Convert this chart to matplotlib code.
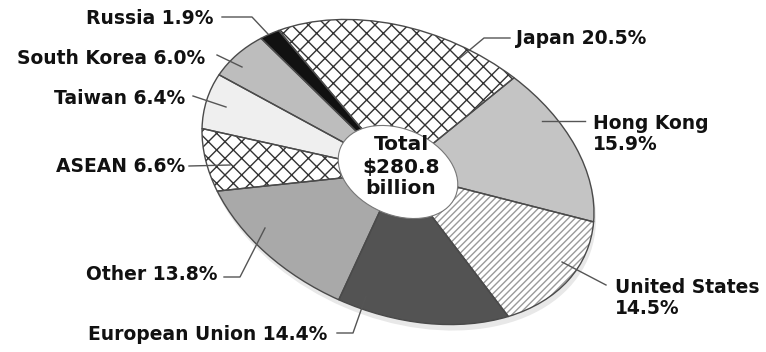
import matplotlib
matplotlib.use('Agg')
import matplotlib.pyplot as plt
from matplotlib.patches import Circle
from matplotlib.transforms import Affine2D

# shares of total (percent), clockwise from Japan
regions = ['Japan', 'Hong Kong', 'United States', 'European Union', 'Other',
           'ASEAN', 'Taiwan', 'South Korea', 'Russia']
shares = [20.5, 15.9, 14.5, 14.4, 13.8, 6.6, 6.4, 6.0, 1.9]
fills = ['white', '#c4c4c4', 'white', '#535353', '#a9a9a9',
         'white', '#efefef', '#bdbdbd', '#111111']
hatches = ['xx', None, '/////', None, None, 'xx', None, None, None]
hatch_cols = ['#333333', '#c4c4c4', '#9a9a9a', '#535353', '#a9a9a9',
              '#333333', '#efefef', '#bdbdbd', '#111111']
total_text = 'Total\n$280.8\nbillion'

plt.rcParams['hatch.linewidth'] = 1.0
plt.rcParams['font.family'] = ['DejaVu Sans']

fig = plt.figure(figsize=(7.66, 3.52), dpi=100)
ax = fig.add_axes([0, 0, 1, 1])

# tilted ellipse geometry (pixel space, y down)
cx, cy, a, b, tilt = 398, 172, 204.6, 140.8, 23.3
squash = Affine2D().scale(a, -b).rotate_deg(tilt)

# soft shadow under the disc
shadow = Circle((0, 0), 1.0, facecolor='#e8e8e8', edgecolor='none', zorder=0)
shadow.set_transform(squash + Affine2D().translate(cx + 2, cy + 6) + ax.transData)
ax.add_patch(shadow)

tr = squash + Affine2D().translate(cx, cy) + ax.transData
wedges, _ = ax.pie(shares, startangle=144, counterclock=False, radius=1.0,
                   colors=fills, wedgeprops=dict(linewidth=0))
for w, h, hc in zip(wedges, hatches, hatch_cols):
    w.set_edgecolor(hc)
    w.set_linewidth(0)
    if h:
        w.set_hatch(h)
    w.set_transform(tr)
    w.set_zorder(1)

outl, _ = ax.pie(shares, startangle=144, counterclock=False, radius=1.0,
                 wedgeprops=dict(fill=False, edgecolor='#4a4a4a', linewidth=1.0))
for w in outl:
    w.set_transform(tr)
    w.set_zorder(2)

hole = Circle((0, 0), 0.305, facecolor='white', edgecolor='#777777', linewidth=0.8, zorder=3)
hole.set_transform(tr)
ax.add_patch(hole)

ax.text(401, 167, total_text, ha='center', va='center', fontsize=14.5,
        fontweight='bold', linespacing=1.2, color='#111111', zorder=4)

lab = dict(fontsize=13.5, fontweight='bold', color='#111111', va='center')
line = dict(color='#555555', linewidth=1.0, zorder=5)

ax.text(213, 19, f'{regions[8]} {shares[8]}%', ha='right', **lab)
ax.plot([222, 252, 268], [17, 17, 34], **line)

ax.text(205, 58, f'{regions[7]} {shares[7]}%', ha='right', **lab)
ax.plot([217, 242], [55, 67], **line)

ax.text(185, 98, f'{regions[6]} {shares[6]}%', ha='right', **lab)
ax.plot([193, 226], [96, 107], **line)

ax.text(185, 167, f'{regions[5]} {shares[5]}%', ha='right', **lab)
ax.plot([189, 230], [166, 165], **line)

ax.text(218, 274, f'{regions[4]} {shares[4]}%', ha='right', **lab)
ax.plot([224, 240, 265], [277, 277, 228], **line)

ax.text(327, 334, f'{regions[3]} {shares[3]}%', ha='right', **lab)
ax.plot([337, 353, 366], [333, 333, 296], **line)

ax.text(516, 39, f'{regions[0]} {shares[0]}%', ha='left', **lab)
ax.plot([510, 484, 460], [38, 38, 58], **line)

ax.text(593, 134, f'{regions[1]}\n{shares[1]}%', ha='left', linespacing=1.15, **lab)
ax.plot([542, 585], [121, 121], **line)

ax.text(615, 298, f'{regions[2]}\n{shares[2]}%', ha='left', linespacing=1.15, **lab)
ax.plot([562, 606], [262, 285], **line)

ax.set_xlim(0, 766)
ax.set_ylim(352, 0)
ax.set_aspect('auto')
ax.axis('off')

fig.savefig('out.png', dpi=100, facecolor='white')
